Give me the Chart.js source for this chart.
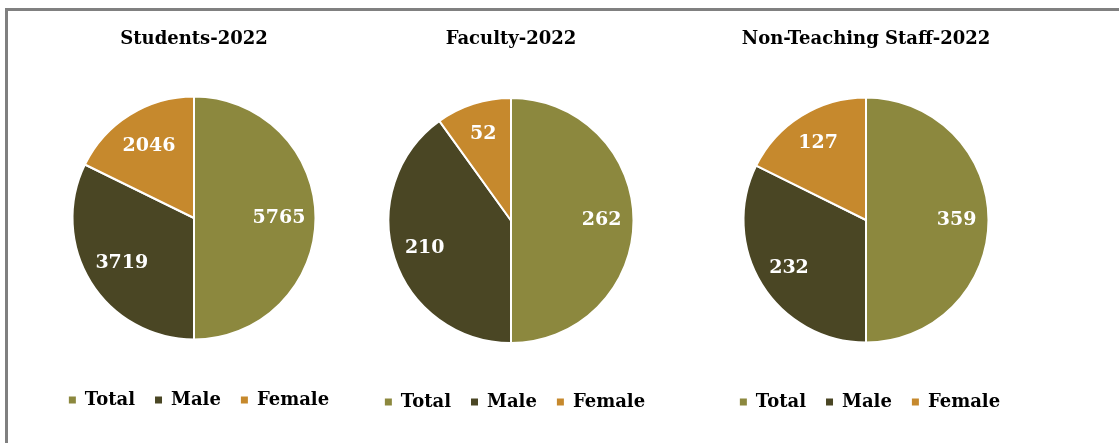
<!DOCTYPE html>
<html>
<head>
<meta charset="utf-8">
<script src="https://cdn.jsdelivr.net/npm/chart.js@4.4.1/dist/chart.umd.min.js"></script>
<style>
  html, body { margin: 0; padding: 0; background: #fff; width: 1119px; height: 443px; overflow: hidden; }
  body { position: relative; }
  .hline { position: absolute; left: 5px; top: 8px; width: 1114px; height: 3px; background: #808080; }
  .vline { position: absolute; left: 5px; top: 8px; width: 3px; height: 435px; background: #808080; }
  .box { position: absolute; top: 0; width: 360px; }
  canvas { display: block; }
</style>
</head>
<body>
<div class="hline"></div>
<div class="vline"></div>
<div class="box" id="b0"><canvas id="c0"></canvas></div>
<div class="box" id="b1"><canvas id="c1"></canvas></div>
<div class="box" id="b2"><canvas id="c2"></canvas></div>
<script>
// ---- data ----
const categories = ['Total', 'Male', 'Female'];
const students = [5765, 3719, 2046];
const faculty = [262, 210, 52];
const staff = [359, 232, 127];
const titles = ['Students-2022', 'Faculty-2022', 'Non-Teaching Staff-2022'];
const seriesList = [students, faculty, staff];

// ---- style ----
const colors = ['#8c883e', '#4a4624', '#c6892d'];
const FONT = "'DejaVu Serif', serif";
Chart.defaults.font.family = FONT;

// layout per chart: pie centre / radius, legend text centre (pixels)
const layouts = [
  { cx: 194, cy: 218, r: 121.5, legendY: 400, legendShift: 5, labelR: 0.70 },
  { cx: 511, cy: 220.5, r: 122.5, legendY: 402, legendShift: 4, labelR: 0.74 },
  { cx: 866, cy: 220, r: 122.5, legendY: 402, legendShift: 4, labelR: 0.74 }
];
const titleCenterY = 39.5;
const W = 360;

const valueLabels = {
  id: 'valueLabels',
  afterLayout(chart, args, opts) {
    if (chart.legend) {
      chart.legend.left += opts.shift;
      chart.legend.right += opts.shift;
    }
  },
  afterDatasetsDraw(chart, args, opts) {
    const ctx = chart.ctx;
    const meta = chart.getDatasetMeta(0);
    const data = chart.data.datasets[0].data;
    ctx.save();
    ctx.font = "bold 19px " + FONT;
    ctx.fillStyle = '#ffffff';
    ctx.textAlign = 'center';
    ctx.textBaseline = 'middle';
    meta.data.forEach((arc, i) => {
      const p = arc.getProps(['x', 'y', 'startAngle', 'endAngle', 'outerRadius'], true);
      const mid = (p.startAngle + p.endAngle) / 2;
      const d = p.outerRadius * opts.factor;
      ctx.fillText(String(data[i]), p.x + Math.cos(mid) * d, p.y + Math.sin(mid) * d);
    });
    ctx.restore();
  }
};

const defaultGen = Chart.overrides.pie.plugins.legend.labels.generateLabels;

seriesList.forEach((values, k) => {
  const L = layouts[k];
  const H = Math.round(L.legendY + 19);
  const areaH = 2 * L.r + 2;
  const chartTop = L.cy - areaH / 2;
  const chartBottom = L.cy + areaH / 2;
  const titleLine = 18 * 1.2;
  const titlePadTop = titleCenterY - titleLine / 2;
  const titlePadBottom = chartTop - titlePadTop - titleLine;
  const tH = H - 48 - chartBottom;   // legend spacer height

  const box = document.getElementById('b' + k);
  box.style.left = (L.cx - W / 2) + 'px';
  const cv = document.getElementById('c' + k);
  cv.width = W; cv.height = H;
  cv.style.width = W + 'px'; cv.style.height = H + 'px';

  new Chart(cv, {
    type: 'pie',
    data: {
      labels: categories,
      datasets: [{
        data: values,
        backgroundColor: colors,
        borderColor: '#ffffff',
        borderWidth: 2,
        hoverOffset: 0,
        offset: 0
      }]
    },
    options: {
      responsive: false,
      animation: false,
      events: [],
      layout: { padding: 0 },
      plugins: {
        valueLabels: { factor: L.labelR, shift: L.legendShift },
        tooltip: { enabled: false },
        title: {
          display: true,
          text: titles[k],
          color: '#000000',
          font: { family: FONT, size: 18, weight: 'bold' },
          padding: { top: titlePadTop, bottom: titlePadBottom }
        },
        legend: {
          position: 'bottom',
          title: { display: true, text: ' ', font: { size: 10 }, padding: { top: Math.max(tH - 12, 0), bottom: 0 } },
          labels: {
            boxWidth: 7,
            boxHeight: 7,
            padding: 20,
            color: '#000000',
            font: { family: FONT, size: 18, weight: 'bold' },
            generateLabels(chart) {
              return defaultGen(chart).map(it => Object.assign(it, { lineWidth: 0, strokeStyle: it.fillStyle }));
            }
          }
        }
      }
    },
    plugins: [valueLabels]
  });
});
</script>
</body>
</html>
